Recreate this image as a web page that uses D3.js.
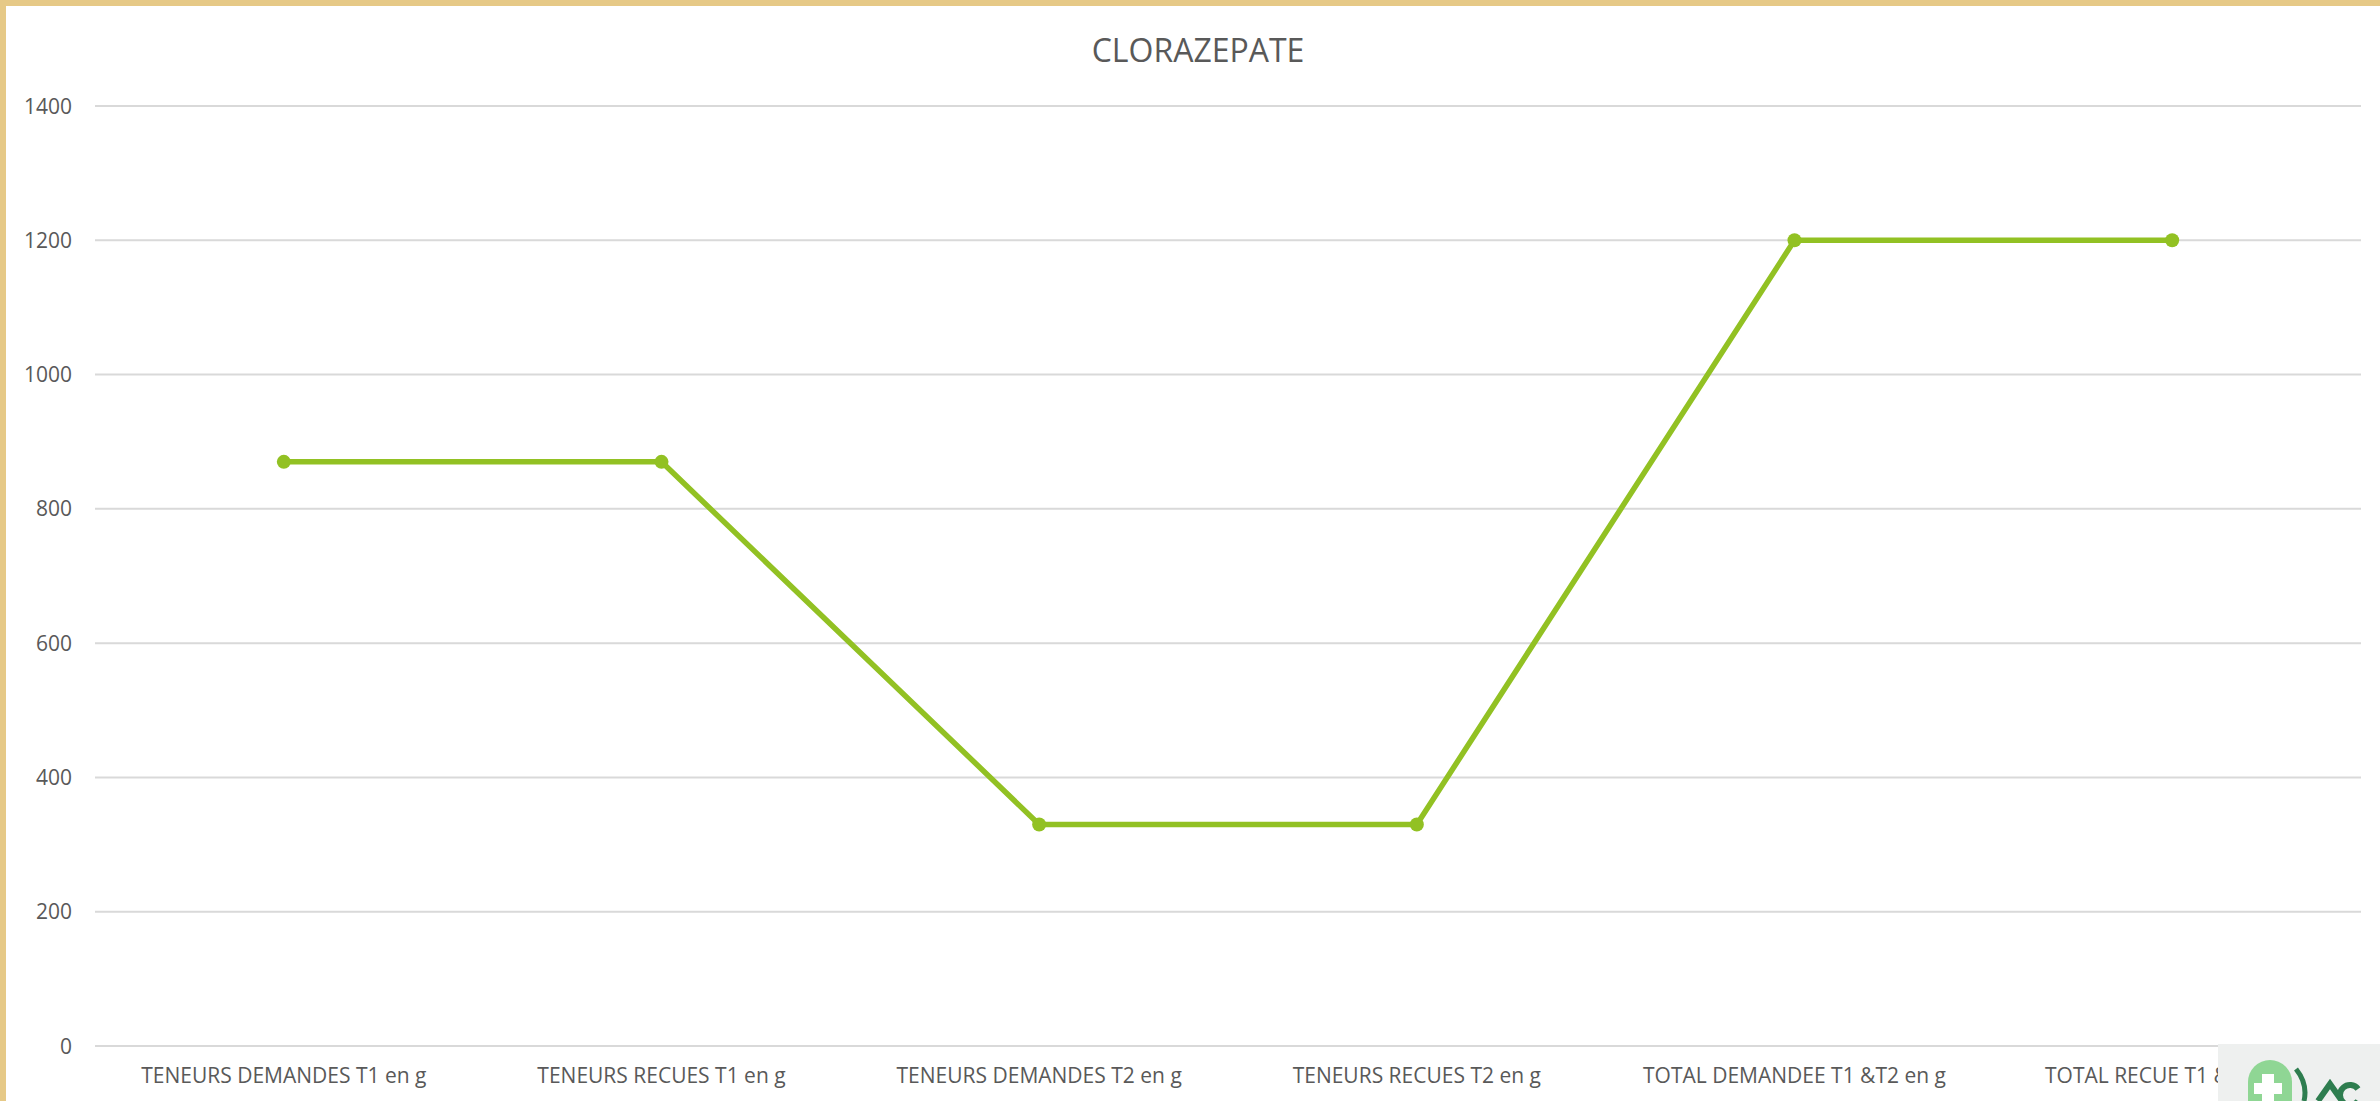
<!DOCTYPE html>
<html>
<head>
<meta charset="utf-8">
<script src="https://cdn.jsdelivr.net/npm/d3@7"></script>
<style>
  body { margin: 0; background: #fff; }
  svg { display: block; }
  .tick text { fill: #595959; }
</style>
</head>
<body>
<svg id="chart" width="2380" height="1101"></svg>
<script>
var categories = [
  "TENEURS DEMANDES T1 en g",
  "TENEURS RECUES T1 en g",
  "TENEURS DEMANDES T2 en g",
  "TENEURS RECUES T2 en g",
  "TOTAL DEMANDEE T1 &T2 en g",
  "TOTAL RECUE T1 &T2 en g"
];
var values = [870, 870, 330, 330, 1200, 1200];
var yTicks = [0, 200, 400, 600, 800, 1000, 1200, 1400];
var title = "CLORAZEPATE";

var width = 2380,
  height = 1101;

var margin = { top: 106, right: 19, bottom: 55, left: 95 };

var svg = d3.select("#chart");

// golden frame, top and left only
var frame = svg.append("g");
frame.append("rect").attr("x", 0).attr("y", 0).attr("width", width).attr("height", 6).attr("fill", "#e6c987");
frame.append("rect").attr("x", 0).attr("y", 0).attr("width", 6).attr("height", height).attr("fill", "#e6c987");

var x = d3.scaleBand()
  .domain(categories)
  .range([margin.left, width - margin.right]);

var y = d3.scaleLinear()
  .domain([0, 1400])
  .range([1046, margin.top]);

// gridlines
svg.append("g")
  .selectAll("line")
  .data(yTicks)
  .enter().append("line")
  .attr("x1", margin.left)
  .attr("x2", width - margin.right)
  .attr("y1", d => y(d))
  .attr("y2", d => y(d))
  .attr("stroke", "#d9d9d9")
  .attr("stroke-width", 2);

// y axis labels
svg.append("g")
  .attr("class", "tick")
  .selectAll("text")
  .data(yTicks)
  .enter().append("text")
  .attr("x", 72)
  .attr("y", d => y(d))
  .attr("dy", "0.36em")
  .attr("text-anchor", "end")
  .style("font-family", "'Open Sans', sans-serif")
  .style("font-size", "21px")
  .text(d => d);

// x axis labels
svg.append("g")
  .attr("class", "tick")
  .selectAll("text")
  .data(categories)
  .enter().append("text")
  .attr("x", d => x(d) + x.bandwidth() / 2)
  .attr("y", 1083)
  .attr("text-anchor", "middle")
  .style("font-family", "'Liberation Sans Narrow', 'Open Sans', sans-serif")
  .style("font-size", "21px")
  .text(d => d);

// title
svg.append("text")
  .attr("x", 1198)
  .attr("y", 62)
  .attr("text-anchor", "middle")
  .attr("fill", "#595959")
  .style("font-family", "'Open Sans', sans-serif")
  .style("font-size", "32px")
  .text(title);

// line
var line = d3.line()
  .x((d, i) => x(categories[i]) + x.bandwidth() / 2)
  .y(d => y(d));

svg.append("path")
  .datum(values)
  .attr("fill", "none")
  .attr("stroke", "#92c123")
  .attr("stroke-width", 5.5)
  .attr("stroke-linejoin", "round")
  .attr("d", line);

svg.append("g")
  .selectAll("circle")
  .data(values)
  .enter().append("circle")
  .attr("cx", (d, i) => x(categories[i]) + x.bandwidth() / 2)
  .attr("cy", d => y(d))
  .attr("r", 7)
  .attr("fill", "#92c123");

// logo fragment bottom right
var logo = svg.append("g").attr("transform", "translate(2218,1044)");
logo.append("rect").attr("width", 162).attr("height", 57).attr("fill", "#eef0ef");
logo.append("rect").attr("x", 30).attr("y", 16).attr("width", 44).attr("height", 70).attr("rx", 22).attr("fill", "#8fd694");
logo.append("rect").attr("x", 44).attr("y", 30).attr("width", 12).attr("height", 30).attr("fill", "#fff");
logo.append("rect").attr("x", 36).attr("y", 39).attr("width", 28).attr("height", 11).attr("fill", "#fff");
logo.append("path").attr("d", "M78,25 Q90,40 86,57").attr("fill", "none").attr("stroke", "#2e7d4f").attr("stroke-width", 5);
logo.append("path").attr("d", "M100,57 L112,40 L124,57 M140,45 A10,10 0 1 0 140,57").attr("fill", "none").attr("stroke", "#2e7d4f").attr("stroke-width", 6);
</script>
</body>
</html>
